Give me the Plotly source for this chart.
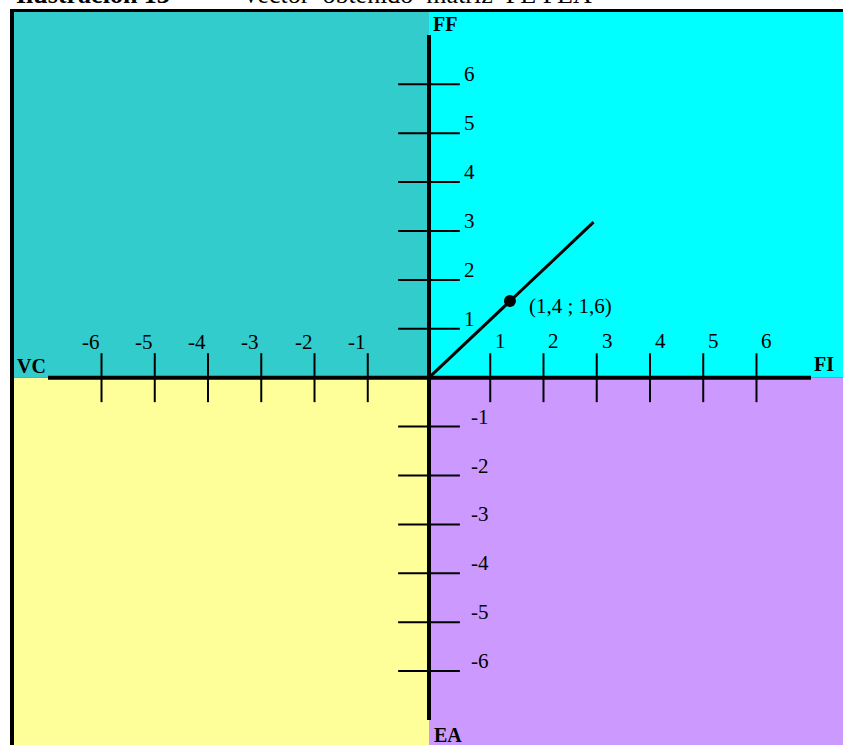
import plotly.graph_objects as go

# data
x_ticks = [-6, -5, -4, -3, -2, -1, 1, 2, 3, 4, 5, 6]
y_ticks = [-6, -5, -4, -3, -2, -1, 1, 2, 3, 4, 5, 6]
axis_names = ['FF', 'VC', 'FI', 'EA']
point_x = 1.4
point_y = 1.6
point_label = '(1,4 ; 1,6)'
vector_x = [0, 2.94]
vector_y = [0, 3.18]
title_left = '<b>Ilustración 13</b>'
title_right = '–  Vector  obtenido  matriz  FE FEA'

W, H = 843, 745
X0, UX = 429, 53.25     # pixel of origin, pixels per unit
Y0, UY = 377.7, 48.9
GAP = 0.15              # the drawing leaves a small gap around the origin on x

def px2x(px):
    return (px - X0) / UX

def py2y(py):
    return (Y0 - py) / UY

def sx(v):
    if v > 0:
        return v + GAP
    if v < 0:
        return v - GAP
    return 0

serif = 'Liberation Serif'
num_font = dict(family=serif, size=21, color='black')

fig = go.Figure()

# frame + quadrants
shapes = []
shapes.append(dict(type='rect', xref='x', yref='y', x0=px2x(10), x1=px2x(W + 5), y0=py2y(9), y1=py2y(H + 5),
                   fillcolor='black', line_width=0, layer='below'))
quads = [
    (px2x(14), 0, py2y(12), 0, '#33CCCC'),
    (0, px2x(W + 5), py2y(12), 0, '#00FFFF'),
    (px2x(14), 0, 0, py2y(H + 5), '#FFFF99'),
    (0, px2x(W + 5), 0, py2y(H + 5), '#CC99FF'),
]
for x0, x1, y0, y1, c in quads:
    shapes.append(dict(type='rect', xref='x', yref='y', x0=x0, x1=x1, y0=y0, y1=y1,
                       fillcolor=c, line_width=0, layer='below'))

# main axes
shapes.append(dict(type='line', x0=px2x(48), x1=px2x(811), y0=0, y1=0, line=dict(color='black', width=4)))
shapes.append(dict(type='line', x0=0, x1=0, y0=py2y(35), y1=py2y(720), line=dict(color='black', width=4)))

# tick marks
tx, ty = [], []
for v in x_ticks:
    tx += [sx(v), sx(v), None]
    ty += [0.5, -0.5, None]
fig.add_trace(go.Scatter(x=tx, y=ty, mode='lines', line=dict(color='black', width=2), hoverinfo='skip'))
tx, ty = [], []
for v in y_ticks:
    tx += [-0.58, 0.58, None]
    ty += [v, v, None]
fig.add_trace(go.Scatter(x=tx, y=ty, mode='lines', line=dict(color='black', width=2), hoverinfo='skip'))

# vector and point
fig.add_trace(go.Scatter(x=[sx(v) for v in vector_x], y=vector_y, mode='lines',
                         line=dict(color='black', width=3), hoverinfo='skip'))
fig.add_trace(go.Scatter(x=[sx(point_x) - 0.03], y=[point_y - 0.03], mode='markers',
                         marker=dict(color='black', size=12), hoverinfo='skip'))

ann = []
for v in x_ticks:
    if v > 0:
        ann.append(dict(x=sx(v), y=py2y(341), text=str(v), xanchor='left', xshift=3, yanchor='middle'))
    else:
        ann.append(dict(x=sx(v), y=py2y(342), text=str(v), xanchor='right', xshift=0, yanchor='middle'))
for v in y_ticks:
    if v > 0:
        ann.append(dict(x=px2x(462), y=v, text=str(v), xanchor='left', yshift=10, yanchor='middle'))
    else:
        ann.append(dict(x=px2x(469), y=v, text=str(v), xanchor='left', yshift=10, yanchor='middle'))
for a in ann:
    a.update(showarrow=False, font=num_font)

ann.append(dict(x=px2x(527), y=py2y(306), text=point_label, xanchor='left',
                yanchor='middle', showarrow=False, font=num_font))

name_pos = [(431, 23.5, 'left'), (15, 365.5, 'left'), (836, 364, 'right'), (432, 735, 'left')]
for name, (px, py, anc) in zip(axis_names, name_pos):
    ann.append(dict(x=px2x(px), y=py2y(py), text='<b>' + name + '</b>', xanchor=anc, yanchor='middle',
                    showarrow=False, font=dict(family=serif, size=20, color='black')))

# caption above the frame, mostly cut off by the top of the page
ann.append(dict(xref='paper', yref='paper', x=14 / W, y=1 - 11 / H, text=title_left, xanchor='left',
                yanchor='bottom', showarrow=False, font=dict(family=serif, size=26, color='black')))
ann.append(dict(xref='paper', yref='paper', x=594 / W, y=1 - 11 / H, text=title_right, xanchor='right',
                yanchor='bottom', showarrow=False, font=dict(family=serif, size=26, color='black')))

fig.update_layout(
    width=W, height=H,
    margin=dict(l=0, r=0, t=0, b=0),
    paper_bgcolor='white', plot_bgcolor='white',
    showlegend=False,
    shapes=shapes,
    annotations=ann,
    xaxis=dict(range=[px2x(0), px2x(W)], visible=False, fixedrange=True),
    yaxis=dict(range=[py2y(H), py2y(0)], visible=False, fixedrange=True),
)

fig.write_html('out.html', config={'displayModeBar': False},
               post_script="document.body.style.margin='0';document.body.style.overflow='hidden';")
